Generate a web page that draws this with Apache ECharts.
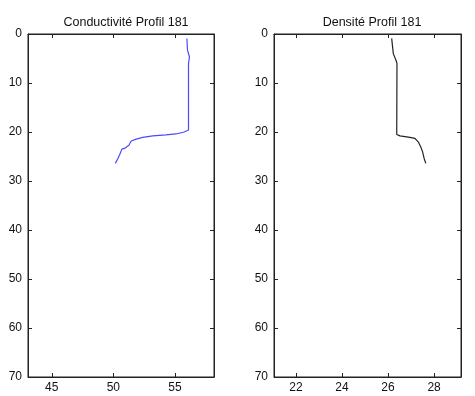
<!DOCTYPE html>
<html><head><meta charset="utf-8">
<script src="https://cdn.jsdelivr.net/npm/echarts@6/dist/echarts.min.js"></script>
<style>html,body{margin:0;padding:0;background:#fff}#c{width:475px;height:396px}</style>
</head><body><div id="c"></div>
<script>
var titles = ['Conductivité Profil 181', 'Densité Profil 181'];
var depthC = [0.9, 3.3, 4.7, 6.0, 19.6, 20.0, 20.4, 20.6, 20.8, 21.1, 21.45, 21.85, 22.7, 23.35, 23.5, 24.7, 25.4, 26.4];
var condC  = [55.97, 56.02, 56.18, 56.1, 56.1, 55.75, 55.08, 54.27, 53.2, 52.39, 51.85, 51.45, 51.26, 50.9, 50.69, 50.5, 50.37, 50.16];
var depthD = [0.9, 4.0, 5.4, 6.0, 19.6, 20.5, 20.8, 21.1, 21.3, 22.0, 23.0, 24.0, 25.4, 26.4];
var densD  = [26.16, 26.23, 26.35, 26.39, 26.38, 26.38, 26.52, 26.95, 27.17, 27.31, 27.42, 27.5, 27.57, 27.64];
var yTicks = [0, 10, 20, 30, 40, 50, 60, 70];
var xTicksC = [45, 50, 55];
var xTicksD = [22, 24, 26, 28];

function pairs(xs, ys){ return xs.map(function(x,i){ return [x, ys[i]]; }); }

var ff = 'Liberation Sans, Arial, sans-serif';
var font = {fontFamily: ff, fontSize: 12, color: '#111'};
var axisCol = '#222';
var grids = [
  {left: 28, top: 34, width: 186, height: 343, show: true, borderColor: axisCol, borderWidth: 1},
  {left: 274, top: 34, width: 187, height: 343, show: true, borderColor: axisCol, borderWidth: 1}
];
var xr = [[43.07, 58.17], [21.05, 29.17]];
var xt = [xTicksC, xTicksD];
var xAxes = [], yAxes = [];
for (var g = 0; g < 2; g++) {
  ['bottom', 'top'].forEach(function(pos){
    xAxes.push({type: 'value', gridIndex: g, position: pos, min: xr[g][0], max: xr[g][1],
      axisLine: {show: true, onZero: false, lineStyle: {color: axisCol}},
      axisTick: {show: true, inside: true, length: 4, customValues: xt[g], lineStyle: {color: axisCol}},
      axisLabel: Object.assign({show: pos === 'bottom', margin: 5, customValues: xt[g]}, font),
      splitLine: {show: false}});
  });
  ['left', 'right'].forEach(function(pos){
    yAxes.push({type: 'value', gridIndex: g, position: pos, min: 0, max: 70, interval: 10, inverse: true,
      axisLine: {show: true, onZero: false, lineStyle: {color: axisCol}},
      axisTick: {show: true, inside: true, length: 4, lineStyle: {color: axisCol}},
      axisLabel: Object.assign({show: pos === 'left', margin: 6}, font),
      splitLine: {show: false}});
  });
}
var tStyle = {fontFamily: ff, fontSize: 12.5, fontWeight: 'normal', color: '#111'};
var chart = echarts.init(document.getElementById('c'));
chart.setOption({
  animation: false,
  backgroundColor: '#fff',
  title: [
    {text: titles[0], left: 121, top: 11, textAlign: 'center', textStyle: tStyle},
    {text: titles[1], left: 367, top: 11, textAlign: 'center', textStyle: tStyle}
  ],
  grid: grids,
  xAxis: xAxes,
  yAxis: yAxes,
  series: [
    {type: 'line', xAxisIndex: 0, yAxisIndex: 0, data: pairs(condC, depthC), showSymbol: false, lineStyle: {color: '#4a4aff', width: 1.2}},
    {type: 'line', xAxisIndex: 2, yAxisIndex: 2, data: pairs(densD, depthD), showSymbol: false, lineStyle: {color: '#222', width: 1.2}}
  ]
});
</script></body></html>
